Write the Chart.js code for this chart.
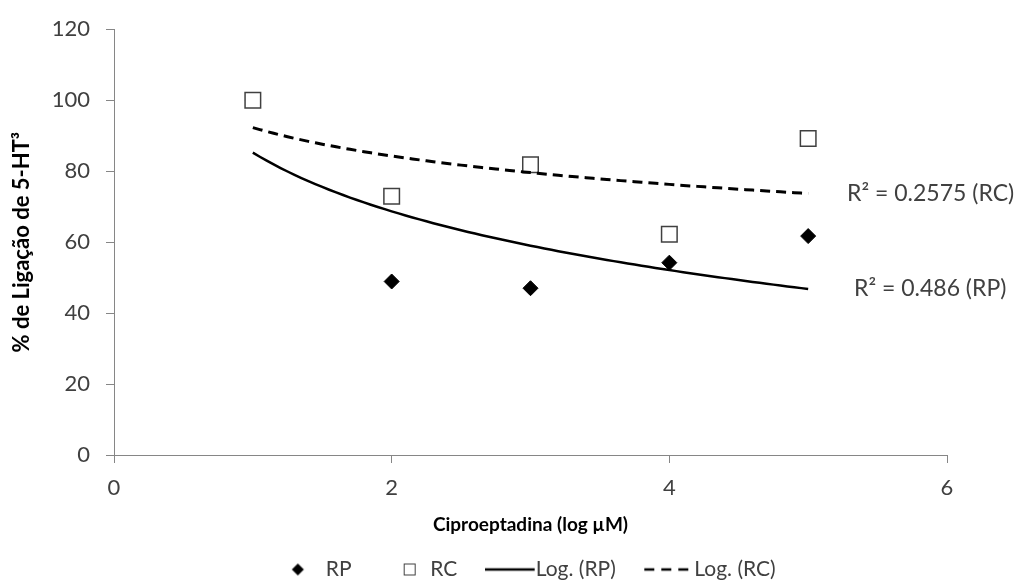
<!DOCTYPE html>
<html>
<head>
<meta charset="utf-8">
<script src="https://cdn.jsdelivr.net/npm/chart.js@4"></script>
<style>
  html, body { margin: 0; padding: 0; background: #fff; }
  #wrap { width: 1018px; height: 583px; }
</style>
</head>
<body>
<div id="wrap"><canvas id="chart"></canvas></div>
<script>
// Dados
const concentrations = [1, 2, 3, 4, 5];            // log µM
const rpValues = [100, 48.9, 47.0, 54.2, 61.7];    // RP
const rcValues = [100, 72.9, 81.8, 62.2, 89.2];    // RC
const seriesNames = ['RP', 'RC', 'Log. (RP)', 'Log. (RC)'];
const r2Texts = ['R\u00B2 = 0.486 (RP)', 'R\u00B2 = 0.2575 (RC)'];
const r2LabelX = [5.33, 5.28];
const xTicks = [0, 2, 4, 6];
const yTicks = [0, 20, 40, 60, 80, 100, 120];

const FONT = 'Lato, "Open Sans", sans-serif';
const TEXT = '#404040';
const AXIS = '#868686';

// linha de tendência logarítmica (mínimos quadrados em ln x)
function logFit(xs, ys) {
    const lx = xs.map(Math.log);
    const n = xs.length;
    const mx = lx.reduce((a, b) => a + b, 0) / n;
    const my = ys.reduce((a, b) => a + b, 0) / n;
    let sxy = 0, sxx = 0;
    for (let i = 0; i < n; i++) {
        sxy += (lx[i] - mx) * (ys[i] - my);
        sxx += (lx[i] - mx) * (lx[i] - mx);
    }
    const a = sxy / sxx;
    return { a: a, b: my - a * mx };
}

function trendPoints(fit) {
    const x0 = Math.min(...concentrations);
    const x1 = Math.max(...concentrations);
    const pts = [];
    for (let i = 0; i <= 80; i++) {
        const x = x0 + (x1 - x0) * i / 80;
        pts.push({ x: x, y: fit.a * Math.log(x) + fit.b });
    }
    return pts;
}

const rpFit = logFit(concentrations, rpValues);
const rcFit = logFit(concentrations, rcValues);

// ícones da legenda (desenhados centrados na caixa de 30px)
function icon(w, h, draw) {
    const c = document.createElement('canvas');
    c.width = w;
    c.height = h;
    draw(c.getContext('2d'));
    return c;
}
const legendIcons = [
    icon(30, 16, g => {
        g.fillStyle = '#000';
        g.beginPath();
        g.moveTo(12.5, 2); g.lineTo(18.5, 8); g.lineTo(12.5, 14); g.lineTo(6.5, 8);
        g.closePath();
        g.fill();
    }),
    icon(30, 16, g => {
        g.fillStyle = '#fff';
        g.strokeStyle = '#404040';
        g.lineWidth = 1;
        g.fillRect(14.5, 2.5, 11, 11);
        g.strokeRect(14.5, 2.5, 11, 11);
    }),
    icon(51, 16, g => {
        g.strokeStyle = '#000';
        g.lineWidth = 2.5;
        g.beginPath(); g.moveTo(0, 8); g.lineTo(50, 8); g.stroke();
    }),
    icon(51, 16, g => {
        g.strokeStyle = '#000';
        g.lineWidth = 2.5;
        g.setLineDash([10, 7]);
        g.beginPath(); g.moveTo(1, 8); g.lineTo(45, 8); g.stroke();
    })
];

const r2Labels = {
    id: 'r2Labels',
    afterDatasetsDraw(chart) {
        const { ctx, scales: { x, y } } = chart;
        const lastX = Math.max(...concentrations);
        ctx.save();
        ctx.font = '23px ' + FONT;
        ctx.fillStyle = TEXT;
        ctx.textBaseline = 'middle';
        [rpFit, rcFit].forEach((fit, i) => {
            const yEnd = fit.a * Math.log(lastX) + fit.b;
            ctx.fillText(r2Texts[i], x.getPixelForValue(r2LabelX[i]), y.getPixelForValue(yEnd));
        });
        ctx.restore();
    }
};

const ctx = document.getElementById('chart').getContext('2d');
new Chart(ctx, {
    type: 'scatter',
    data: {
        datasets: [{
            label: seriesNames[0],
            data: concentrations.map((x, i) => ({ x: x, y: rpValues[i] })),
            pointStyle: 'rectRot',
            pointRadius: 7.5,
            backgroundColor: '#000',
            borderColor: '#000',
            borderWidth: 1,
            order: 2
        }, {
            label: seriesNames[1],
            data: concentrations.map((x, i) => ({ x: x, y: rcValues[i] })),
            pointStyle: 'rect',
            pointRadius: 11,
            backgroundColor: '#fff',
            borderColor: '#404040',
            borderWidth: 1.5,
            order: 1
        }, {
            label: seriesNames[2],
            data: trendPoints(rpFit),
            showLine: true,
            pointRadius: 0,
            borderColor: '#000',
            borderWidth: 2.5,
            order: 0
        }, {
            label: seriesNames[3],
            data: trendPoints(rcFit),
            showLine: true,
            pointRadius: 0,
            borderColor: '#000',
            borderWidth: 3,
            borderDash: [10, 6],
            order: 0
        }]
    },
    options: {
        responsive: true,
        maintainAspectRatio: false,
        animation: false,
        layout: { padding: { left: 0, top: 26, right: 71, bottom: -7 } },
        plugins: {
            tooltip: { enabled: false },
            legend: {
                position: 'bottom',
                fullSize: false,
                labels: {
                    usePointStyle: true,
                    pointStyleWidth: 30,
                    padding: 38,
                    color: TEXT,
                    font: { family: FONT, size: 21 },
                    sort: (a, b) => a.datasetIndex - b.datasetIndex,
                    generateLabels: chart => chart.data.datasets.map((ds, i) => ({
                        text: ds.label,
                        pointStyle: legendIcons[i],
                        fillStyle: '#000',
                        strokeStyle: '#000',
                        lineWidth: 0,
                        fontColor: TEXT,
                        datasetIndex: i
                    }))
                }
            }
        },
        scales: {
            x: {
                type: 'linear',
                min: 0,
                max: 6,
                afterBuildTicks: s => { s.ticks = xTicks.map(v => ({ value: v })); },
                afterFit: s => { s.height = 66; },
                grid: { drawOnChartArea: false, drawTicks: true, tickLength: 8, color: AXIS },
                border: { color: AXIS, width: 1 },
                ticks: { color: TEXT, padding: 12, font: { family: FONT, size: 22 } },
                title: {
                    display: true,
                    text: 'Ciproeptadina (log \u00B5M)',
                    color: '#000',
                    font: { family: FONT, size: 19, weight: 'bold' },
                    padding: { top: 0, bottom: -15 }
                }
            },
            y: {
                type: 'linear',
                min: 0,
                max: 120,
                afterBuildTicks: s => { s.ticks = yTicks.map(v => ({ value: v })); },
                afterFit: s => { s.width = 114; },
                grid: { drawOnChartArea: false, drawTicks: true, tickLength: 8, color: AXIS },
                border: { color: AXIS, width: 1 },
                ticks: { color: TEXT, padding: 16, font: { family: FONT, size: 22 } },
                title: {
                    display: true,
                    text: '% de Ligação de 5-HT\u00B3',
                    color: '#000',
                    font: { family: FONT, size: 22, weight: 'bold' },
                    padding: { top: 9, bottom: 0 }
                }
            }
        }
    },
    plugins: [r2Labels]
});
</script>
</body>
</html>
